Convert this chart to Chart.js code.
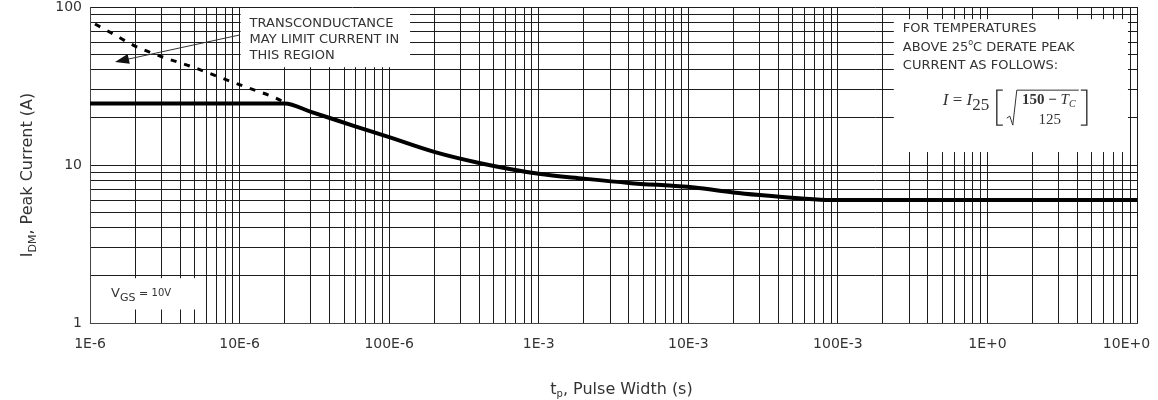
<!DOCTYPE html>
<html>
<head>
<meta charset="utf-8">
<script src="https://cdn.jsdelivr.net/npm/chart.js@4.4.1/dist/chart.umd.min.js"></script>
<style>
  html, body { margin: 0; padding: 0; background: #fff; }
</style>
</head>
<body>
<canvas id="chart" width="1158" height="400"></canvas>
<script>
// tick labels, one per decade
const xTickLabels = ['1E-6', '10E-6', '100E-6', '1E-3', '10E-3', '100E-3', '1E+0', '10E+0']
const yTickLabels = ['1', '10', '100']

// peak current limit, VGS = 10V (solid curve)
const pulseWidth = [1e-6, 20e-6, 30e-6, 60e-6, 100e-6, 200e-6, 400e-6, 1e-3, 2e-3, 4e-3, 11e-3, 20e-3, 30e-3, 55e-3, 90e-3, 10]
const peakCurrent = [24.5, 24.5, 21.7, 17.5, 15.0, 12.1, 10.3, 8.8, 8.2, 7.7, 7.2, 6.7, 6.45, 6.15, 6.0, 6.0]

// transconductance limit (dashed curve)
const gfsPulseWidth = [1.08e-6, 1.47e-6, 1.94e-6, 3.08e-6, 4.8e-6, 7.2e-6, 11.2e-6, 16.7e-6, 19.5e-6]
const gfsCurrent = [78, 66.5, 57.4, 48.1, 41.9, 36.2, 31.0, 27.0, 25.2]

const SANS = '"DejaVu Sans", sans-serif'
const SERIF = '"Liberation Serif", "DejaVu Serif", serif'
const TEXT = '#333'

function logTicks(minExp, maxExp) {
  const out = []
  for (let e = minExp; e < maxExp; e++) {
    for (let k = 1; k < 10; k++) out.push({ value: k * Math.pow(10, e) })
  }
  out.push({ value: Math.pow(10, maxExp) })
  return out
}

function decadeLabel(value, minExp, labels) {
  const l = Math.log10(value)
  const r = Math.round(l)
  return Math.abs(l - r) < 1e-6 ? labels[r - minExp] : ''
}

function drawRich(ctx, parts, x, y, align) {
  let total = 0
  parts.forEach(p => { ctx.font = p.font; p.w = ctx.measureText(p.t).width; total += p.w })
  let cx = align === 'center' ? x - total / 2 : x
  ctx.textAlign = 'left'
  ctx.textBaseline = 'alphabetic'
  parts.forEach(p => { ctx.font = p.font; ctx.fillText(p.t, cx, y + (p.dy || 0)); cx += p.w })
}

// white boxes behind the notes, positioned in data space
function boxRect(chart, x0, x1, y0, y1) {
  const { x, y } = chart.scales
  const l = x.getPixelForValue(x0), r = x.getPixelForValue(x1)
  const t = y.getPixelForValue(y0), b = y.getPixelForValue(y1)
  return { left: l, top: t, width: r - l, height: b - t }
}

const notes = {
  gfs: [10e-6, 138e-6, 100, 41],
  derate: [0.233, 8.7, 85, 11.9],
  vgs: [1e-6, 5.9e-6, 1.95, 1.2]
}

const notesPlugin = {
  id: 'notes',
  beforeDatasetsDraw(chart) {
    const ctx = chart.ctx
    ctx.save()
    ctx.fillStyle = '#fff'
    Object.values(notes).forEach(n => {
      const r = boxRect(chart, ...n)
      ctx.fillRect(r.left + 1, r.top + 1, r.width - 1, r.height - 2)
    })
    ctx.restore()
  },
  afterDraw(chart) {
    const ctx = chart.ctx
    const { x, y } = chart.scales
    const area = chart.chartArea
    ctx.save()
    ctx.fillStyle = TEXT
    ctx.strokeStyle = TEXT

    // transconductance note + arrow
    const g = boxRect(chart, ...notes.gfs)
    ctx.font = '13px ' + SANS
    ctx.textBaseline = 'alphabetic'
    ctx.textAlign = 'left'
    ;['TRANSCONDUCTANCE', 'MAY LIMIT CURRENT IN', 'THIS REGION'].forEach((t, i) => {
      ctx.fillText(t, g.left + 10, g.top + 20 + i * 16)
    })
    const ax0 = x.getPixelForValue(10e-6), ay0 = y.getPixelForValue(66.5)
    const ax1 = x.getPixelForValue(1.47e-6), ay1 = y.getPixelForValue(44.9)
    const ang = Math.atan2(ay1 - ay0, ax1 - ax0)
    ctx.lineWidth = 1
    ctx.beginPath()
    ctx.moveTo(ax0, ay0)
    ctx.lineTo(ax1 - 10 * Math.cos(ang), ay1 - 10 * Math.sin(ang))
    ctx.stroke()
    ctx.fillStyle = '#111'
    ctx.beginPath()
    ctx.moveTo(ax1, ay1)
    ctx.lineTo(ax1 - 14 * Math.cos(ang) + 5 * Math.sin(ang), ay1 - 14 * Math.sin(ang) - 5 * Math.cos(ang))
    ctx.lineTo(ax1 - 14 * Math.cos(ang) - 5 * Math.sin(ang), ay1 - 14 * Math.sin(ang) + 5 * Math.cos(ang))
    ctx.closePath()
    ctx.fill()
    ctx.fillStyle = TEXT

    // derating note
    const d = boxRect(chart, ...notes.derate)
    ctx.font = '13px ' + SANS
    ctx.fillText('FOR TEMPERATURES', d.left + 10, d.top + 14)
    drawRich(ctx, [
      { t: 'ABOVE 25', font: '13px ' + SANS },
      { t: 'o', font: '8px ' + SANS, dy: -6 },
      { t: 'C DERATE PEAK', font: '13px ' + SANS }
    ], d.left + 10, d.top + 33)
    ctx.font = '13px ' + SANS
    ctx.fillText('CURRENT AS FOLLOWS:', d.left + 10, d.top + 51)

    const fx = d.left + 50, fy = d.top + 82
    drawRich(ctx, [
      { t: 'I', font: 'italic 17px ' + SERIF },
      { t: ' = ', font: '17px ' + SERIF },
      { t: 'I', font: 'italic 17px ' + SERIF },
      { t: '25', font: '17px ' + SERIF, dy: 5 }
    ], fx, fy + 5)
    ctx.lineWidth = 1.4
    ctx.beginPath()
    ctx.moveTo(fx + 60, fy - 10); ctx.lineTo(fx + 54, fy - 10); ctx.lineTo(fx + 54, fy + 25); ctx.lineTo(fx + 60, fy + 25)
    ctx.moveTo(fx + 138, fy - 10); ctx.lineTo(fx + 144, fy - 10); ctx.lineTo(fx + 144, fy + 25); ctx.lineTo(fx + 138, fy + 25)
    ctx.stroke()
    ctx.lineWidth = 1
    ctx.beginPath()
    ctx.moveTo(fx + 64, fy + 18); ctx.lineTo(fx + 67, fy + 16); ctx.lineTo(fx + 70, fy + 25)
    ctx.lineTo(fx + 74, fy - 10); ctx.lineTo(fx + 136, fy - 10)
    ctx.stroke()
    drawRich(ctx, [
      { t: '150 \u2212 ', font: 'bold 15px ' + SERIF },
      { t: 'T', font: 'italic 15px ' + SERIF },
      { t: 'C', font: 'italic 10px ' + SERIF, dy: 3 }
    ], fx + 106, fy + 4, 'center')
    ctx.font = '15px ' + SERIF
    ctx.textAlign = 'center'
    ctx.fillText('125', fx + 107, fy + 24)

    // gate voltage note
    const v = boxRect(chart, ...notes.vgs)
    drawRich(ctx, [
      { t: 'V', font: '13px ' + SANS },
      { t: 'GS', font: '11px ' + SANS, dy: 4 },
      { t: ' = ', font: '11px ' + SANS },
      { t: '10V', font: '10px ' + SANS, dy: -1 }
    ], v.left + 21, v.top + 20)

    // axis titles with subscripts
    drawRich(ctx, [
      { t: 't', font: '16px ' + SANS },
      { t: 'p', font: '10px ' + SANS, dy: 3 },
      { t: ', Pulse Width (s)', font: '16px ' + SANS }
    ], (area.left + area.right) / 2 + 8, 394, 'center')
    ctx.translate(26, (area.top + area.bottom) / 2 + 10)
    ctx.rotate(-Math.PI / 2)
    drawRich(ctx, [
      { t: 'I', font: '16px ' + SANS },
      { t: 'DM', font: '11px ' + SANS, dy: 4 },
      { t: ', Peak Current (A)', font: '16px ' + SANS }
    ], 0, 6, 'center')
    ctx.restore()
  }
}

const gridStyle = { color: '#1c1c1c', lineWidth: 1, drawTicks: false }

new Chart(document.getElementById('chart'), {
  type: 'line',
  data: {
    datasets: [
      {
        data: pulseWidth.map((t, i) => ({ x: t, y: peakCurrent[i] })),
        borderColor: '#000',
        borderWidth: 4,
        pointRadius: 0,
        cubicInterpolationMode: 'monotone'
      },
      {
        data: gfsPulseWidth.map((t, i) => ({ x: t, y: gfsCurrent[i] })),
        borderColor: '#000',
        borderWidth: 3,
        borderDash: [6, 8],
        pointRadius: 0,
        cubicInterpolationMode: 'monotone'
      }
    ]
  },
  options: {
    responsive: false,
    animation: false,
    layout: { padding: { left: 0, top: 7, right: 21, bottom: 0 } },
    plugins: { legend: { display: false }, tooltip: { enabled: false } },
    scales: {
      x: {
        type: 'logarithmic',
        min: 1e-6,
        max: 10,
        afterBuildTicks: s => { s.ticks = logTicks(-6, 1) },
        afterFit: s => { s.height = 77; s.paddingLeft = 0; s.paddingRight = 0 },
        grid: gridStyle,
        border: { color: '#444', width: 1 },
        ticks: {
          autoSkip: false,
          maxRotation: 0,
          padding: 13,
          color: TEXT,
          font: { family: SANS, size: 14 },
          // last label sits a little left of its gridline, as in the source
          callback: v => {
            const s = decadeLabel(v, -6, xTickLabels)
            return s === xTickLabels[xTickLabels.length - 1] ? s + '\u2002\u2002\u2002' : s
          }
        }
      },
      y: {
        type: 'logarithmic',
        min: 1,
        max: 100,
        afterBuildTicks: s => { s.ticks = logTicks(0, 2) },
        afterFit: s => { s.width = 90; s.paddingTop = 0; s.paddingBottom = 0 },
        grid: gridStyle,
        border: { color: '#444', width: 1 },
        ticks: {
          autoSkip: false,
          padding: 8,
          color: TEXT,
          font: { family: SANS, size: 14 },
          callback: v => decadeLabel(v, 0, yTickLabels)
        }
      }
    }
  },
  plugins: [notesPlugin]
})
</script>
</body>
</html>
